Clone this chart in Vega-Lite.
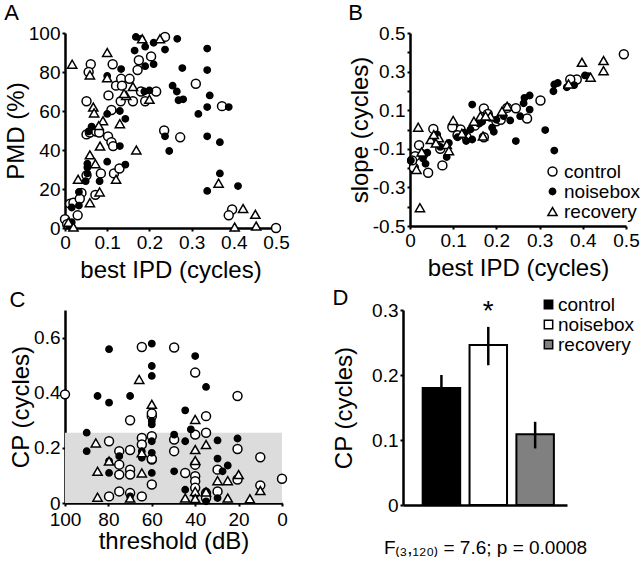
{
  "$schema": "https://vega.github.io/schema/vega-lite/v6.json",
  "padding": {"left": 4, "top": 2, "right": 0, "bottom": 0},
  "config": {
    "font": "Liberation Sans",
    "view": {"stroke": null},
    "axis": {
      "grid": false,
      "domainColor": "black",
      "domainWidth": 2.5,
      "tickColor": "black",
      "tickWidth": 2,
      "tickSize": 3,
      "labelColor": "black",
      "titleColor": "black",
      "labelFontSize": 19,
      "titleFontSize": 24,
      "titleFontWeight": "normal",
      "labelPadding": 2,
      "titlePadding": 0,
      "labelOverlap": false,
      "labelFlush": false
    },
    "title": {"fontSize": 22, "fontWeight": "normal", "anchor": "start", "frame": "bounds", "color": "black", "offset": -1},
    "legend": {"labelColor": "black", "labelFontSize": 19, "title": null}
  },
  "datasets": {
    "a": [
      {"x": 0, "y": 4.5, "g": "control"}, {"x": 0.012, "y": 12.5, "g": "control"}, {"x": 0.02, "y": 13, "g": "control"},
      {"x": 0.03, "y": 6.5, "g": "control"}, {"x": 0.039, "y": 18, "g": "control"}, {"x": 0.035, "y": 15, "g": "control"},
      {"x": 0.061, "y": 84, "g": "control"}, {"x": 0.056, "y": 80, "g": "control"}, {"x": 0.051, "y": 65, "g": "control"},
      {"x": 0.051, "y": 48, "g": "control"}, {"x": 0.059, "y": 49, "g": "control"}, {"x": 0.074, "y": 49.5, "g": "control"},
      {"x": 0.081, "y": 49, "g": "control"}, {"x": 0.072, "y": 17, "g": "control"}, {"x": 0.085, "y": 28, "g": "control"},
      {"x": 0.051, "y": 27, "g": "control"}, {"x": 0.103, "y": 68, "g": "control"}, {"x": 0.113, "y": 84, "g": "control"},
      {"x": 0.102, "y": 47, "g": "control"}, {"x": 0.11, "y": 44, "g": "control"}, {"x": 0.114, "y": 42, "g": "control"},
      {"x": 0.11, "y": 60.5, "g": "control"}, {"x": 0.116, "y": 28, "g": "control"}, {"x": 0.129, "y": 30.5, "g": "control"},
      {"x": 0.121, "y": 73, "g": "control"}, {"x": 0.133, "y": 76.5, "g": "control"}, {"x": 0.135, "y": 73, "g": "control"},
      {"x": 0.132, "y": 65, "g": "control"}, {"x": 0.153, "y": 76.5, "g": "control"}, {"x": 0.161, "y": 65, "g": "control"},
      {"x": 0.172, "y": 81, "g": "control"}, {"x": 0.175, "y": 86, "g": "control"}, {"x": 0.18, "y": 70, "g": "control"},
      {"x": 0.19, "y": 65, "g": "control"}, {"x": 0.204, "y": 88, "g": "control"}, {"x": 0.216, "y": 70, "g": "control"},
      {"x": 0.237, "y": 98, "g": "control"}, {"x": 0.235, "y": 50, "g": "control"}, {"x": 0.273, "y": 46.5, "g": "control"},
      {"x": 0.31, "y": 74, "g": "control"}, {"x": 0.372, "y": 62.5, "g": "control"}, {"x": 0.396, "y": 9.5, "g": "control"},
      {"x": 0.388, "y": 6.5, "g": "control"}, {"x": 0.5, "y": 0, "g": "control"}, {"x": 0.005, "y": 2, "g": "control"},
      {"x": 0.168, "y": 98, "g": "noisebox"}, {"x": 0.18, "y": 97, "g": "noisebox"}, {"x": 0.19, "y": 93, "g": "noisebox"},
      {"x": 0.21, "y": 95, "g": "noisebox"}, {"x": 0.165, "y": 91, "g": "noisebox"}, {"x": 0.19, "y": 83, "g": "noisebox"},
      {"x": 0.21, "y": 84, "g": "noisebox"}, {"x": 0.237, "y": 91.5, "g": "noisebox"}, {"x": 0.266, "y": 97, "g": "noisebox"},
      {"x": 0.278, "y": 82, "g": "noisebox"}, {"x": 0.337, "y": 92, "g": "noisebox"}, {"x": 0.337, "y": 81, "g": "noisebox"},
      {"x": 0.255, "y": 73, "g": "noisebox"}, {"x": 0.265, "y": 70, "g": "noisebox"}, {"x": 0.269, "y": 65.5, "g": "noisebox"},
      {"x": 0.28, "y": 66, "g": "noisebox"}, {"x": 0.343, "y": 68, "g": "noisebox"}, {"x": 0.337, "y": 62, "g": "noisebox"},
      {"x": 0.316, "y": 58.5, "g": "noisebox"}, {"x": 0.388, "y": 62, "g": "noisebox"}, {"x": 0.337, "y": 47, "g": "noisebox"},
      {"x": 0.367, "y": 44, "g": "noisebox"}, {"x": 0.237, "y": 47, "g": "noisebox"}, {"x": 0.247, "y": 39.5, "g": "noisebox"},
      {"x": 0.367, "y": 28, "g": "noisebox"}, {"x": 0.41, "y": 21.5, "g": "noisebox"}, {"x": 0.337, "y": 19, "g": "noisebox"},
      {"x": 0.188, "y": 70, "g": "noisebox"}, {"x": 0.1, "y": 78, "g": "noisebox"}, {"x": 0.133, "y": 81.5, "g": "noisebox"},
      {"x": 0.13, "y": 60, "g": "noisebox"}, {"x": 0.143, "y": 56, "g": "noisebox"}, {"x": 0.1, "y": 58.5, "g": "noisebox"},
      {"x": 0.13, "y": 42, "g": "noisebox"}, {"x": 0.143, "y": 32.5, "g": "noisebox"}, {"x": 0.1, "y": 34, "g": "noisebox"},
      {"x": 0.063, "y": 52, "g": "noisebox"}, {"x": 0.056, "y": 49.5, "g": "noisebox"}, {"x": 0.053, "y": 33, "g": "noisebox"},
      {"x": 0.053, "y": 31, "g": "noisebox"}, {"x": 0.053, "y": 28, "g": "noisebox"}, {"x": 0.049, "y": 24, "g": "noisebox"},
      {"x": 0.082, "y": 24, "g": "noisebox"}, {"x": 0.033, "y": 18.5, "g": "noisebox"}, {"x": 0.033, "y": 11.5, "g": "noisebox"},
      {"x": 0.016, "y": 10.5, "g": "noisebox"}, {"x": 0.016, "y": 3, "g": "noisebox"}, {"x": 0.2, "y": 70.5, "g": "noisebox"},
      {"x": 0.01, "y": 1, "g": "noisebox"},
      {"x": 0.017, "y": 84, "g": "recovery"}, {"x": 0.1, "y": 90, "g": "recovery"}, {"x": 0.059, "y": 78.5, "g": "recovery"},
      {"x": 0.1, "y": 77, "g": "recovery"}, {"x": 0.161, "y": 72.5, "g": "recovery"}, {"x": 0.145, "y": 68, "g": "recovery"},
      {"x": 0.2, "y": 66, "g": "recovery"}, {"x": 0.225, "y": 97, "g": "recovery"}, {"x": 0.067, "y": 62, "g": "recovery"},
      {"x": 0.069, "y": 59, "g": "recovery"}, {"x": 0.09, "y": 55, "g": "recovery"}, {"x": 0.08, "y": 52.5, "g": "recovery"},
      {"x": 0.13, "y": 53.5, "g": "recovery"}, {"x": 0.083, "y": 42, "g": "recovery"}, {"x": 0.169, "y": 40, "g": "recovery"},
      {"x": 0.059, "y": 37.5, "g": "recovery"}, {"x": 0.072, "y": 33, "g": "recovery"}, {"x": 0.031, "y": 25, "g": "recovery"},
      {"x": 0.121, "y": 25, "g": "recovery"}, {"x": 0.082, "y": 18.5, "g": "recovery"}, {"x": 0.059, "y": 13, "g": "recovery"},
      {"x": 0.364, "y": 23, "g": "recovery"}, {"x": 0.422, "y": 10, "g": "recovery"}, {"x": 0.451, "y": 7, "g": "recovery"},
      {"x": 0.402, "y": 0.5, "g": "recovery"}, {"x": 0.453, "y": 1, "g": "recovery"}, {"x": 0.008, "y": 3, "g": "recovery"},
      {"x": 0.02, "y": 0.5, "g": "recovery"}, {"x": 0.14, "y": 69, "g": "recovery"}, {"x": 0.183, "y": 97, "g": "recovery"}
    ],
    "b": [
      {"x": 0.495, "y": 0.39, "g": "control"}, {"x": 0.302, "y": 0.15, "g": "control"}, {"x": 0.271, "y": 0.057, "g": "control"},
      {"x": 0.171, "y": -0.04, "g": "control"}, {"x": 0.171, "y": 0.109, "g": "control"}, {"x": 0.075, "y": -0.186, "g": "control"},
      {"x": 0.042, "y": -0.224, "g": "control"}, {"x": 0.021, "y": -0.081, "g": "control"}, {"x": 0.012, "y": -0.138, "g": "control"},
      {"x": 0.009, "y": -0.198, "g": "control"}, {"x": 0.054, "y": 0.003, "g": "control"}, {"x": 0.386, "y": 0.259, "g": "control"},
      {"x": 0.371, "y": 0.259, "g": "control"}, {"x": 0.131, "y": -0.04, "g": "control"}, {"x": 0.117, "y": 0.0, "g": "control"},
      {"x": 0.098, "y": 0.012, "g": "control"}, {"x": 0.2, "y": 0.043, "g": "control"}, {"x": 0.225, "y": 0.112, "g": "control"},
      {"x": 0.059, "y": -0.06, "g": "control"}, {"x": 0.18, "y": 0.08, "g": "control"}, {"x": 0.15, "y": 0.02, "g": "control"},
      {"x": 0.21, "y": 0.05, "g": "control"}, {"x": 0.11, "y": -0.03, "g": "control"}, {"x": 0.07, "y": -0.1, "g": "control"},
      {"x": 0.03, "y": -0.13, "g": "control"}, {"x": 0.005, "y": -0.16, "g": "control"}, {"x": 0.245, "y": 0.11, "g": "control"},
      {"x": 0.144, "y": 0.129, "g": "noisebox"}, {"x": 0.245, "y": -0.06, "g": "noisebox"}, {"x": 0.313, "y": -0.003, "g": "noisebox"},
      {"x": 0.334, "y": -0.109, "g": "noisebox"}, {"x": 0.036, "y": -0.178, "g": "noisebox"}, {"x": 0.085, "y": -0.143, "g": "noisebox"},
      {"x": 0.265, "y": 0.164, "g": "noisebox"}, {"x": 0.277, "y": 0.176, "g": "noisebox"}, {"x": 0.277, "y": 0.103, "g": "noisebox"},
      {"x": 0.334, "y": 0.233, "g": "noisebox"}, {"x": 0.342, "y": 0.241, "g": "noisebox"}, {"x": 0.405, "y": 0.28, "g": "noisebox"},
      {"x": 0.413, "y": 0.276, "g": "noisebox"}, {"x": 0.217, "y": 0.069, "g": "noisebox"}, {"x": 0.232, "y": 0.047, "g": "noisebox"},
      {"x": 0.255, "y": 0.069, "g": "noisebox"}, {"x": 0.19, "y": 0.009, "g": "noisebox"}, {"x": 0.194, "y": -0.012, "g": "noisebox"},
      {"x": 0.144, "y": -0.052, "g": "noisebox"}, {"x": 0.126, "y": -0.017, "g": "noisebox"}, {"x": 0.063, "y": -0.026, "g": "noisebox"},
      {"x": 0.002, "y": -0.16, "g": "noisebox"}, {"x": 0.332, "y": 0.198, "g": "noisebox"}, {"x": 0.363, "y": 0.219, "g": "noisebox"},
      {"x": 0.167, "y": 0.04, "g": "noisebox"}, {"x": 0.263, "y": 0.136, "g": "noisebox"}, {"x": 0.06, "y": -0.05, "g": "noisebox"},
      {"x": 0.07, "y": -0.09, "g": "noisebox"}, {"x": 0.09, "y": -0.07, "g": "noisebox"}, {"x": 0.11, "y": -0.04, "g": "noisebox"},
      {"x": 0.16, "y": 0.03, "g": "noisebox"}, {"x": 0.185, "y": 0.06, "g": "noisebox"}, {"x": 0.2, "y": 0.05, "g": "noisebox"},
      {"x": 0.03, "y": -0.15, "g": "noisebox"}, {"x": 0.04, "y": -0.12, "g": "noisebox"}, {"x": 0.13, "y": -0.06, "g": "noisebox"},
      {"x": 0.38, "y": 0.23, "g": "noisebox"}, {"x": 0.14, "y": 0.0, "g": "noisebox"},
      {"x": 0.019, "y": 0.012, "g": "recovery"}, {"x": 0.023, "y": -0.405, "g": "recovery"}, {"x": 0.015, "y": -0.207, "g": "recovery"},
      {"x": 0.1, "y": 0.047, "g": "recovery"}, {"x": 0.398, "y": 0.348, "g": "recovery"}, {"x": 0.448, "y": 0.357, "g": "recovery"},
      {"x": 0.448, "y": 0.305, "g": "recovery"}, {"x": 0.418, "y": 0.271, "g": "recovery"}, {"x": 0.367, "y": 0.236, "g": "recovery"},
      {"x": 0.225, "y": 0.121, "g": "recovery"}, {"x": 0.169, "y": -0.034, "g": "recovery"}, {"x": 0.148, "y": 0.043, "g": "recovery"},
      {"x": 0.085, "y": -0.078, "g": "recovery"}, {"x": 0.067, "y": -0.043, "g": "recovery"}, {"x": 0.048, "y": -0.052, "g": "recovery"},
      {"x": 0.163, "y": 0.069, "g": "recovery"}, {"x": 0.213, "y": 0.095, "g": "recovery"}, {"x": 0.186, "y": 0.069, "g": "recovery"},
      {"x": 0.055, "y": -0.026, "g": "recovery"}, {"x": 0.027, "y": -0.116, "g": "recovery"}, {"x": 0.12, "y": -0.02, "g": "recovery"},
      {"x": 0.09, "y": -0.11, "g": "recovery"}, {"x": 0.175, "y": 0.07, "g": "recovery"}, {"x": 0.06, "y": -0.07, "g": "recovery"}
    ],
    "c": [
      {"x": 100, "y": 0.394, "g": "control"}, {"x": 20.5, "y": 0.388, "g": "control"}, {"x": 20.5, "y": 0.196, "g": "control"},
      {"x": 20.5, "y": 0.085, "g": "control"}, {"x": 10, "y": 0.166, "g": "control"}, {"x": 10, "y": 0.064, "g": "control"},
      {"x": 0, "y": 0.088, "g": "control"}, {"x": 64.6, "y": 0.566, "g": "control"}, {"x": 49.7, "y": 0.564, "g": "control"},
      {"x": 40, "y": 0.473, "g": "control"}, {"x": 60, "y": 0.315, "g": "control"}, {"x": 60, "y": 0.242, "g": "control"},
      {"x": 60, "y": 0.158, "g": "control"}, {"x": 60, "y": 0.067, "g": "control"}, {"x": 70, "y": 0.3, "g": "control"},
      {"x": 70, "y": 0.192, "g": "control"}, {"x": 70, "y": 0.121, "g": "control"}, {"x": 70, "y": 0.103, "g": "control"},
      {"x": 70, "y": 0.036, "g": "control"}, {"x": 79.7, "y": 0.224, "g": "control"}, {"x": 79.7, "y": 0.024, "g": "control"},
      {"x": 75, "y": 0.188, "g": "control"}, {"x": 75, "y": 0.139, "g": "control"}, {"x": 75, "y": 0.103, "g": "control"},
      {"x": 75, "y": 0.042, "g": "control"}, {"x": 64.6, "y": 0.236, "g": "control"}, {"x": 64.6, "y": 0.212, "g": "control"},
      {"x": 64.6, "y": 0.024, "g": "control"}, {"x": 49.7, "y": 0.23, "g": "control"}, {"x": 49.7, "y": 0.188, "g": "control"},
      {"x": 44.6, "y": 0.109, "g": "control"}, {"x": 40, "y": 0.248, "g": "control"}, {"x": 40, "y": 0.139, "g": "control"},
      {"x": 40, "y": 0.097, "g": "control"}, {"x": 40, "y": 0.079, "g": "control"}, {"x": 40, "y": 0.055, "g": "control"},
      {"x": 35, "y": 0.315, "g": "control"}, {"x": 35, "y": 0.255, "g": "control"}, {"x": 35, "y": 0.036, "g": "control"},
      {"x": 35, "y": 0.018, "g": "control"}, {"x": 29.7, "y": 0.121, "g": "control"}, {"x": 29.7, "y": 0.042, "g": "control"},
      {"x": 60, "y": 0.325, "g": "control"}, {"x": 60, "y": 0.16, "g": "control"},
      {"x": 79.7, "y": 0.558, "g": "noisebox"}, {"x": 60, "y": 0.578, "g": "noisebox"}, {"x": 60, "y": 0.497, "g": "noisebox"},
      {"x": 60, "y": 0.461, "g": "noisebox"}, {"x": 40, "y": 0.533, "g": "noisebox"}, {"x": 35, "y": 0.421, "g": "noisebox"},
      {"x": 85, "y": 0.388, "g": "noisebox"}, {"x": 79.7, "y": 0.364, "g": "noisebox"}, {"x": 70, "y": 0.388, "g": "noisebox"},
      {"x": 90, "y": 0.255, "g": "noisebox"}, {"x": 90, "y": 0.188, "g": "noisebox"}, {"x": 79.7, "y": 0.109, "g": "noisebox"},
      {"x": 79.7, "y": 0.152, "g": "noisebox"}, {"x": 75, "y": 0.17, "g": "noisebox"}, {"x": 64.6, "y": 0.164, "g": "noisebox"},
      {"x": 64.6, "y": 0.188, "g": "noisebox"}, {"x": 60, "y": 0.297, "g": "noisebox"}, {"x": 60, "y": 0.285, "g": "noisebox"},
      {"x": 60, "y": 0.224, "g": "noisebox"}, {"x": 60, "y": 0.182, "g": "noisebox"}, {"x": 60, "y": 0.109, "g": "noisebox"},
      {"x": 49.7, "y": 0.248, "g": "noisebox"}, {"x": 49.7, "y": 0.115, "g": "noisebox"}, {"x": 44.6, "y": 0.336, "g": "noisebox"},
      {"x": 44.6, "y": 0.224, "g": "noisebox"}, {"x": 44.6, "y": 0.048, "g": "noisebox"}, {"x": 42, "y": 0.267, "g": "noisebox"},
      {"x": 40, "y": 0.03, "g": "noisebox"}, {"x": 35, "y": 0.006, "g": "noisebox"}, {"x": 35, "y": 0.042, "g": "noisebox"},
      {"x": 29.7, "y": 0.227, "g": "noisebox"}, {"x": 29.7, "y": 0.161, "g": "noisebox"}, {"x": 29.7, "y": 0.018, "g": "noisebox"},
      {"x": 27.4, "y": 0.115, "g": "noisebox"}, {"x": 25, "y": 0.136, "g": "noisebox"}, {"x": 20.5, "y": 0.234, "g": "noisebox"},
      {"x": 70, "y": 0.024, "g": "noisebox"},
      {"x": 85.8, "y": 0.218, "g": "recovery"}, {"x": 85, "y": 0.115, "g": "recovery"}, {"x": 85, "y": 0.021, "g": "recovery"},
      {"x": 79.7, "y": 0.152, "g": "recovery"}, {"x": 70, "y": 0.018, "g": "recovery"}, {"x": 65.8, "y": 0.448, "g": "recovery"},
      {"x": 64.6, "y": 0.182, "g": "recovery"}, {"x": 64.6, "y": 0.109, "g": "recovery"}, {"x": 60, "y": 0.358, "g": "recovery"},
      {"x": 44.6, "y": 0.018, "g": "recovery"}, {"x": 40, "y": 0.303, "g": "recovery"}, {"x": 40, "y": 0.194, "g": "recovery"},
      {"x": 40, "y": 0.154, "g": "recovery"}, {"x": 40, "y": 0.042, "g": "recovery"}, {"x": 40, "y": 0.016, "g": "recovery"},
      {"x": 35, "y": 0.212, "g": "recovery"}, {"x": 35, "y": 0.04, "g": "recovery"}, {"x": 29.7, "y": 0.081, "g": "recovery"},
      {"x": 25, "y": 0.081, "g": "recovery"}, {"x": 25, "y": 0.018, "g": "recovery"}, {"x": 20, "y": 0.103, "g": "recovery"},
      {"x": 14.8, "y": 0.015, "g": "recovery"}, {"x": 10, "y": 0.045, "g": "recovery"}
    ],
    "cband": [{"x": 100, "x2": 0, "y": 0, "y2": 0.255}],
    "d": [
      {"g": "control", "mean": 0.18, "lo": 0.16, "hi": 0.2},
      {"g": "noisebox", "mean": 0.246, "lo": 0.215, "hi": 0.274, "star": "*", "sy": 0.284},
      {"g": "recovery", "mean": 0.109, "lo": 0.087, "hi": 0.128}
    ]
  },
  "resolve": {
    "scale": {"fill": "independent", "shape": "independent", "size": "independent", "color": "independent"},
    "legend": {"fill": "independent", "shape": "independent", "size": "independent", "color": "independent"}
  },
  "vconcat": [
    {
      "resolve": {
        "scale": {"fill": "independent", "shape": "independent", "size": "independent"},
        "legend": {"fill": "independent", "shape": "independent", "size": "independent"}
      },
      "hconcat": [
        {
          "width": 211,
          "height": 195,
          "title": {"text": "A"},
          "data": {"name": "a"},
          "mark": {"type": "point", "filled": true, "stroke": "black", "strokeWidth": 1.5, "opacity": 1},
          "encoding": {
            "x": {"field": "x", "type": "quantitative", "scale": {"domain": [0, 0.5], "nice": false},
              "axis": {"title": "best IPD (cycles)", "titlePadding": 6, "values": [0, 0.1, 0.2, 0.3, 0.4, 0.5], "labelExpr": "datum.value == 0 ? '0' : format(datum.value, '.1f')"}},
            "y": {"field": "y", "type": "quantitative", "scale": {"domain": [0, 100], "nice": false},
              "axis": {"title": "PMD (%)", "values": [0, 20, 40, 60, 80, 100]}},
            "shape": {"field": "g", "type": "nominal", "scale": {"domain": ["control", "noisebox", "recovery"], "range": ["circle", "circle", "triangle-up"]}, "legend": null},
            "fill": {"field": "g", "type": "nominal", "scale": {"domain": ["control", "noisebox", "recovery"], "range": ["white", "black", "white"]}, "legend": null},
            "size": {"field": "g", "type": "nominal", "scale": {"type": "ordinal", "domain": ["control", "noisebox", "recovery"], "range": [80, 40, 85]}, "legend": null}
          }
        },
        {
          "width": 216,
          "height": 193,
          "title": {"text": "B"},
          "data": {"name": "b"},
          "mark": {"type": "point", "filled": true, "stroke": "black", "strokeWidth": 1.5, "opacity": 1},
          "encoding": {
            "x": {"field": "x", "type": "quantitative", "scale": {"domain": [0, 0.5], "nice": false},
              "axis": {"title": "best IPD (cycles)", "titlePadding": 6, "values": [0, 0.1, 0.2, 0.3, 0.4, 0.5], "labelExpr": "datum.value == 0 ? '0' : format(datum.value, '.1f')"}},
            "y": {"field": "y", "type": "quantitative", "scale": {"domain": [-0.5, 0.5], "nice": false},
              "axis": {"title": "slope (cycles)", "values": [-0.5, -0.4, -0.3, -0.2, -0.1, 0, 0.1, 0.2, 0.3, 0.4, 0.5],
                "labelExpr": "abs(round(datum.value * 10)) % 2 == 1 ? (datum.value < 0 ? '-' : '') + format(abs(datum.value), '.1f') : ''"}},
            "shape": {"field": "g", "type": "nominal", "scale": {"domain": ["control", "noisebox", "recovery"], "range": ["circle", "circle", "triangle-up"]},
              "legend": {"orient": "none", "legendX": 133, "legendY": 129, "rowPadding": -6, "labelOffset": 2,
                "encode": {"symbols": {"update": {"stroke": {"value": "black"}, "strokeWidth": {"value": 1.5}}}}}},
            "fill": {"field": "g", "type": "nominal", "scale": {"domain": ["control", "noisebox", "recovery"], "range": ["white", "black", "white"]},
              "legend": {"orient": "none", "legendX": 133, "legendY": 129, "rowPadding": -6, "labelOffset": 2,
                "encode": {"symbols": {"update": {"stroke": {"value": "black"}, "strokeWidth": {"value": 1.5}}}}}},
            "size": {"field": "g", "type": "nominal", "scale": {"type": "ordinal", "domain": ["control", "noisebox", "recovery"], "range": [80, 40, 85]},
              "legend": {"orient": "none", "legendX": 133, "legendY": 129, "rowPadding": -6, "labelOffset": 2,
                "encode": {"symbols": {"update": {"stroke": {"value": "black"}, "strokeWidth": {"value": 1.5}}}}}}
          }
        }
      ],
      "spacing": 58
    },
    {
      "resolve": {
        "scale": {"fill": "independent", "shape": "independent", "size": "independent", "color": "independent"},
        "legend": {"fill": "independent", "shape": "independent", "size": "independent", "color": "independent"}
      },
      "hconcat": [
        {
          "width": 217,
          "height": 193,
          "title": {"text": "C", "offset": -2},
          "layer": [
            {
              "data": {"name": "cband"},
              "mark": {"type": "rect", "color": "#dcdcdc"},
              "encoding": {
                "x": {"field": "x", "type": "quantitative"},
                "x2": {"field": "x2"},
                "y": {"field": "y", "type": "quantitative"},
                "y2": {"field": "y2"}
              }
            },
            {
              "data": {"name": "c"},
              "mark": {"type": "point", "filled": true, "stroke": "black", "strokeWidth": 1.5, "opacity": 1},
              "encoding": {
                "x": {"field": "x", "type": "quantitative", "scale": {"domain": [0, 100], "reverse": true, "nice": false},
                  "axis": {"title": "threshold (dB)", "labelPadding": 4, "titlePadding": 0, "values": [0, 20, 40, 60, 80, 100]}},
                "y": {"field": "y", "type": "quantitative", "scale": {"domain": [0, 0.7], "nice": false},
                  "axis": {"title": "CP (cycles)", "values": [0, 0.1, 0.2, 0.3, 0.4, 0.5, 0.6, 0.7],
                    "labelExpr": "round(datum.value * 10) % 2 == 0 && datum.value < 0.65 ? (datum.value == 0 ? '0' : format(datum.value, '.1f')) : ''"}},
                "shape": {"field": "g", "type": "nominal", "scale": {"domain": ["control", "noisebox", "recovery"], "range": ["circle", "circle", "triangle-up"]}, "legend": null},
                "fill": {"field": "g", "type": "nominal", "scale": {"domain": ["control", "noisebox", "recovery"], "range": ["white", "black", "white"]}, "legend": null},
                "size": {"field": "g", "type": "nominal", "scale": {"type": "ordinal", "domain": ["control", "noisebox", "recovery"], "range": [80, 40, 85]}, "legend": null}
              }
            }
          ]
        },
        {
          "width": 164,
          "height": 195,
          "title": {"text": "D", "offset": -15},
          "data": {"name": "d"},
          "encoding": {
            "x": {"field": "g", "type": "nominal", "sort": null,
              "scale": {"domain": ["control", "noisebox", "recovery"], "paddingInner": 0.2, "paddingOuter": 0.35, "align": 0.6},
              "axis": {"title": "F₍₃,₁₂₀₎ = 7.6; p = 0.0008", "labels": false, "ticks": false, "titleFontSize": 19, "titlePadding": 33}}
          },
          "layer": [
            {
              "mark": {"type": "bar", "stroke": "black", "strokeWidth": 2},
              "encoding": {
                "y": {"field": "mean", "type": "quantitative", "scale": {"domain": [0, 0.3], "nice": false},
                  "axis": {"title": "CP (cycles)", "titlePadding": 15, "values": [0, 0.05, 0.1, 0.15, 0.2, 0.25, 0.3],
                    "labelExpr": "round(datum.value * 100) % 10 == 0 ? (datum.value == 0 ? '0' : format(datum.value, '.1f')) : ''"}},
                "color": {"field": "g", "type": "nominal", "scale": {"domain": ["control", "noisebox", "recovery"], "range": ["black", "white", "#808080"]},
                  "legend": {"orient": "none", "legendX": 136, "legendY": -15, "rowPadding": -10, "symbolType": "square", "symbolSize": 70,
                    "symbolStrokeColor": "black", "symbolStrokeWidth": 1.5, "labelOffset": 0}}
              }
            },
            {
              "mark": {"type": "rule", "strokeWidth": 2.5, "color": "black"},
              "encoding": {
                "y": {"field": "lo", "type": "quantitative"},
                "y2": {"field": "hi"}
              }
            },
            {
              "mark": {"type": "text", "fontSize": 28, "baseline": "alphabetic", "color": "black"},
              "encoding": {
                "y": {"field": "sy", "type": "quantitative"},
                "text": {"field": "star"}
              }
            }
          ]
        }
      ],
      "spacing": 42
    }
  ],
  "spacing": 5
}
